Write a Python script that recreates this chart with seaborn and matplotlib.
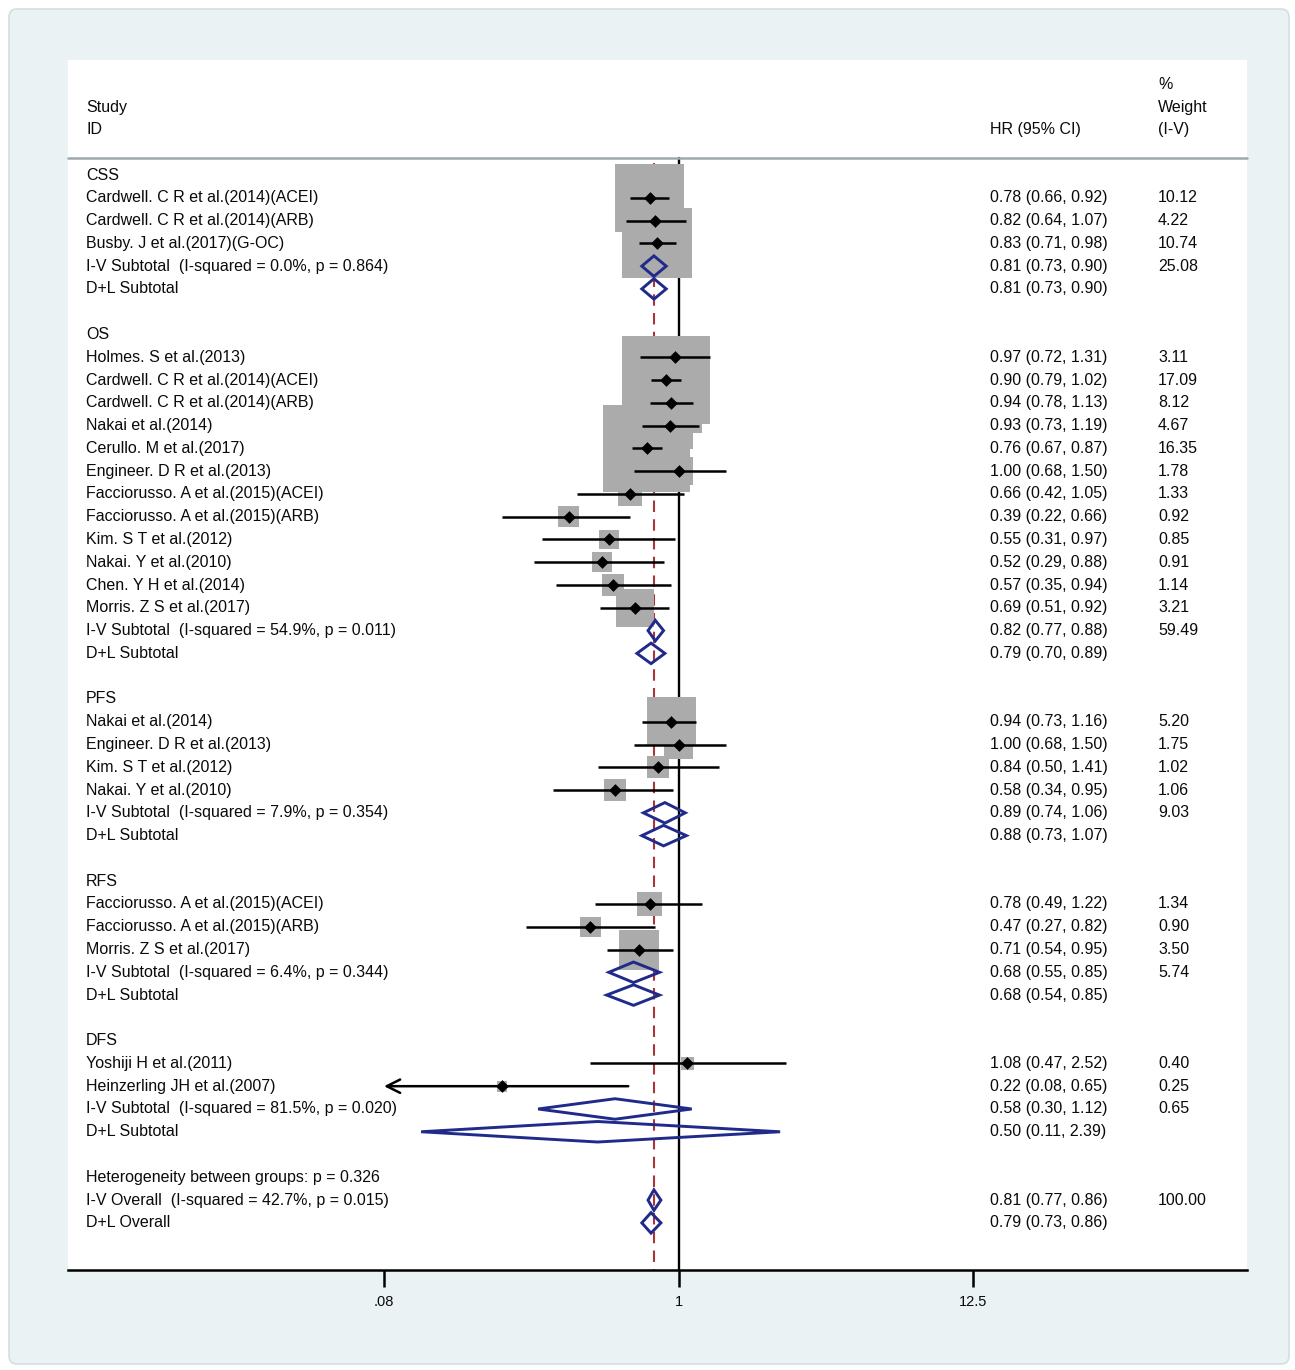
import numpy as np
import pandas as pd
import matplotlib
matplotlib.use("Agg")
import matplotlib.pyplot as plt
import matplotlib.transforms as mtransforms
from matplotlib.patches import Polygon, FancyBboxPatch
import seaborn as sns

# ---------------------------------------------------------------- data
groups = ["CSS", "OS", "PFS", "RFS", "DFS"]

css_studies = ["Cardwell. C R et al.(2014)(ACEI)", "Cardwell. C R et al.(2014)(ARB)",
               "Busby. J et al.(2017)(G-OC)"]
css_hr = [0.78, 0.82, 0.83]
css_lo = [0.66, 0.64, 0.71]
css_hi = [0.92, 1.07, 0.98]
css_wt = [10.12, 4.22, 10.74]

os_studies = ["Holmes. S et al.(2013)", "Cardwell. C R et al.(2014)(ACEI)",
              "Cardwell. C R et al.(2014)(ARB)", "Nakai et al.(2014)",
              "Cerullo. M et al.(2017)", "Engineer. D R et al.(2013)",
              "Facciorusso. A et al.(2015)(ACEI)", "Facciorusso. A et al.(2015)(ARB)",
              "Kim. S T et al.(2012)", "Nakai. Y et al.(2010)",
              "Chen. Y H et al.(2014)", "Morris. Z S et al.(2017)"]
os_hr = [0.97, 0.90, 0.94, 0.93, 0.76, 1.00, 0.66, 0.39, 0.55, 0.52, 0.57, 0.69]
os_lo = [0.72, 0.79, 0.78, 0.73, 0.67, 0.68, 0.42, 0.22, 0.31, 0.29, 0.35, 0.51]
os_hi = [1.31, 1.02, 1.13, 1.19, 0.87, 1.50, 1.05, 0.66, 0.97, 0.88, 0.94, 0.92]
os_wt = [3.11, 17.09, 8.12, 4.67, 16.35, 1.78, 1.33, 0.92, 0.85, 0.91, 1.14, 3.21]

pfs_studies = ["Nakai et al.(2014)", "Engineer. D R et al.(2013)",
               "Kim. S T et al.(2012)", "Nakai. Y et al.(2010)"]
pfs_hr = [0.94, 1.00, 0.84, 0.58]
pfs_lo = [0.73, 0.68, 0.50, 0.34]
pfs_hi = [1.16, 1.50, 1.41, 0.95]
pfs_wt = [5.20, 1.75, 1.02, 1.06]

rfs_studies = ["Facciorusso. A et al.(2015)(ACEI)", "Facciorusso. A et al.(2015)(ARB)",
               "Morris. Z S et al.(2017)"]
rfs_hr = [0.78, 0.47, 0.71]
rfs_lo = [0.49, 0.27, 0.54]
rfs_hi = [1.22, 0.82, 0.95]
rfs_wt = [1.34, 0.90, 3.50]

dfs_studies = ["Yoshiji H et al.(2011)", "Heinzerling JH et al.(2007)"]
dfs_hr = [1.08, 0.22]
dfs_lo = [0.47, 0.08]
dfs_hi = [2.52, 0.65]
dfs_wt = [0.40, 0.25]

# fixed-effect (I-V) subtotals per group
iv_i2 = ["0.0%", "54.9%", "7.9%", "6.4%", "81.5%"]
iv_p = ["0.864", "0.011", "0.354", "0.344", "0.020"]
iv_hr = [0.81, 0.82, 0.89, 0.68, 0.58]
iv_lo = [0.73, 0.77, 0.74, 0.55, 0.30]
iv_hi = [0.90, 0.88, 1.06, 0.85, 1.12]
iv_wt = [25.08, 59.49, 9.03, 5.74, 0.65]

# random-effects (D+L) subtotals per group
dl_hr = [0.81, 0.79, 0.88, 0.68, 0.50]
dl_lo = [0.73, 0.70, 0.73, 0.54, 0.11]
dl_hi = [0.90, 0.89, 1.07, 0.85, 2.39]

het_between_p = "0.326"
overall_iv = (0.81, 0.77, 0.86, 100.00)
overall_iv_i2, overall_iv_p = "42.7%", "0.015"
overall_dl = (0.79, 0.73, 0.86)

x_ticks = [0.08, 1, 12.5]
x_tick_labels = [".08", "1", "12.5"]

# ---------------------------------------------------------------- rows table
per_group = [
    (css_studies, css_hr, css_lo, css_hi, css_wt),
    (os_studies, os_hr, os_lo, os_hi, os_wt),
    (pfs_studies, pfs_hr, pfs_lo, pfs_hi, pfs_wt),
    (rfs_studies, rfs_hr, rfs_lo, rfs_hi, rfs_wt),
    (dfs_studies, dfs_hr, dfs_lo, dfs_hi, dfs_wt),
]
recs = []
def add(label, kind, hr=np.nan, lo=np.nan, hi=np.nan, wt=np.nan):
    recs.append(dict(label=label, kind=kind, hr=hr, lo=lo, hi=hi, wt=wt))

for g, (names, h, l, u, w) in enumerate(per_group):
    add(groups[g], "group")
    for i in range(len(names)):
        add(names[i], "study", h[i], l[i], u[i], w[i])
    add(f"I-V Subtotal  (I-squared = {iv_i2[g]}, p = {iv_p[g]})", "pooled",
        iv_hr[g], iv_lo[g], iv_hi[g], iv_wt[g])
    add("D+L Subtotal", "pooled", dl_hr[g], dl_lo[g], dl_hi[g])
    add("", "blank")
add(f"Heterogeneity between groups: p = {het_between_p}", "text")
add(f"I-V Overall  (I-squared = {overall_iv_i2}, p = {overall_iv_p})", "pooled", *overall_iv)
add("D+L Overall", "pooled", *overall_dl)

df = pd.DataFrame(recs)
df["row"] = np.arange(len(df))
studies = df[df.kind == "study"]
pooled = df[df.kind == "pooled"]

# ---------------------------------------------------------------- layout
W, H, DPI = 1295, 1370, 100
PX = 72.0 / DPI              # points per pixel
ROW_PX = 22.78               # pixel height of a row
ROW0_PX = 175                # pixel y of first row
AX_L, AX_R, AX_T, AX_B = 68, 1247, 60, 1270
X_PX1, X_C = 116.6, 678.5    # pixels per log unit, pixel of HR = 1

def px2row(y):
    return (y - ROW0_PX) / ROW_PX

sns.set_theme(style="white")
plt.rcParams["font.family"] = ["Liberation Sans", "DejaVu Sans"]

TXT = "#0a0a0a"
BOX = "#ababab"
NAVY = "#1f2a8a"
RED = "#a8353a"

fig = plt.figure(figsize=(W / DPI, H / DPI), dpi=DPI, facecolor="white")
frame = FancyBboxPatch((9 / W, 1 - 1364 / H), 1280 / W, 1355 / H,
                       boxstyle="round,pad=0,rounding_size=0.006",
                       transform=fig.transFigure, facecolor="#eaf2f4",
                       edgecolor="#d3dfe2", linewidth=1.2, zorder=0)
fig.add_artist(frame)

ax = fig.add_axes([AX_L / W, 1 - AX_B / H, (AX_R - AX_L) / W, (AX_B - AX_T) / H])
ax.set_facecolor("white")
ax.set_xscale("log")

y_bot = px2row(AX_B)
# reference lines
ax.plot([1, 1], [px2row(158), y_bot], color="black", lw=1.7, zorder=1)
ax.plot([overall_iv[0]] * 2, [px2row(163), y_bot], color=RED, lw=1.5,
        dashes=(5.5, 3.5), zorder=1)

# header rule
tr = mtransforms.blended_transform_factory(ax.transAxes, ax.transData)
ax.plot([0, 1], [px2row(158)] * 2, transform=tr,
        color="#9ea9ad", lw=1.8, zorder=1, clip_on=False)

# weight boxes: area proportional to study weight
box_k = (21.4 * PX) ** 2
wmin, wmax = studies.wt.min(), studies.wt.max()
sns.scatterplot(data=studies, x="hr", y="row", size="wt",
                sizes=(wmin * box_k, wmax * box_k), size_norm=(wmin, wmax),
                marker="s", color=BOX, linewidth=0, legend=False, ax=ax, zorder=2)

# confidence intervals (clipped at the axis minimum with an arrow)
xmin_axis = x_ticks[0]
for _, r in studies.iterrows():
    if r.lo <= xmin_axis:
        ax.annotate("", xy=(xmin_axis, r.row), xytext=(r.hi, r.row),
                    arrowprops=dict(arrowstyle="->", color="black", lw=1.8,
                                    mutation_scale=24, shrinkA=0, shrinkB=0),
                    zorder=3)
    else:
        ax.plot([r.lo, r.hi], [r.row, r.row], color="black", lw=1.8, zorder=3,
                solid_capstyle="butt")

# point estimates
sns.scatterplot(data=studies, x="hr", y="row", marker="D", color="black",
                s=42, linewidth=0, legend=False, ax=ax, zorder=4)

# pooled estimates as diamonds
half_h = 0.45
for _, r in pooled.iterrows():
    verts = [(r.lo, r.row), (r.hr, r.row - half_h), (r.hi, r.row), (r.hr, r.row + half_h)]
    ax.add_patch(Polygon(verts, closed=True, fill=False, edgecolor=NAVY,
                         lw=2.1, joinstyle="miter", zorder=5))

# axes cosmetics
ax.set_xlim(np.exp((AX_L - X_C) / X_PX1), np.exp((AX_R - X_C) / X_PX1))
ax.set_ylim(px2row(AX_B), px2row(AX_T))
ax.set_yticks([])
for s in ["top", "left", "right"]:
    ax.spines[s].set_visible(False)
ax.spines["bottom"].set_color("black")
ax.spines["bottom"].set_linewidth(1.8)
ax.set_xticks(x_ticks)
ax.set_xticklabels(x_tick_labels)
ax.minorticks_off()
ax.tick_params(axis="x", which="major", bottom=True, direction="out", length=12,
               width=1.8, color="black", pad=6, labelsize=10.5, labelcolor=TXT)
ax.set_xlabel("")
ax.set_ylabel("")

# text columns
def col(xpx):
    return (xpx - AX_L) / (AX_R - AX_L)

FS = 11.5
def put(xpx, row, s):
    ax.text(col(xpx), row, s, transform=tr, ha="left", va="center",
            fontsize=FS, color=TXT)

for _, r in df.iterrows():
    if r.label:
        put(86, r.row, r.label)
    if not np.isnan(r.hr):
        put(990, r.row, f"{r.hr:.2f} ({r.lo:.2f}, {r.hi:.2f})")
    if not np.isnan(r.wt):
        put(1158, r.row, f"{r.wt:.2f}")

# column headers
put(86, px2row(107), "Study")
put(86, px2row(129), "ID")
put(990, px2row(129), "HR (95% CI)")
put(1158, px2row(84), "%")
put(1158, px2row(107), "Weight")
put(1158, px2row(129), "(I-V)")

fig.savefig("out.png", dpi=DPI, facecolor=fig.get_facecolor())
